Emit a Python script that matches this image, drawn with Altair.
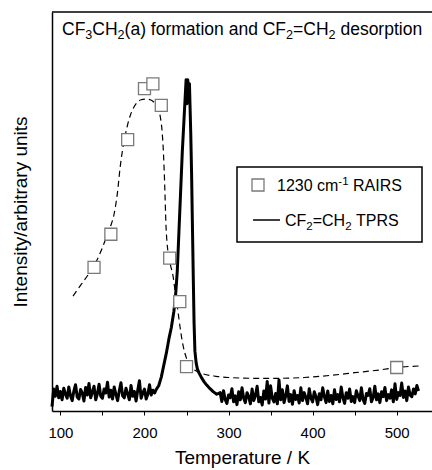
import altair as alt
import pandas as pd

FONT = "Liberation Sans"

# ---- RAIRS (1230 cm-1) squares ----
rairs_T = [140, 160, 180, 200, 210, 220, 230, 242, 250, 500]
rairs_I = [36.0, 44.3, 68.0, 80.8, 82.0, 76.6, 38.3, 27.4, 11.1, 10.9]

# ---- dashed guide curve through RAIRS data ----
curve_T = [115, 125, 135, 145, 153, 160, 164, 168, 171, 174, 177, 180, 183, 187, 191, 196,
           202, 207, 212, 216, 219, 221, 222.5, 224, 225.5, 228, 231, 234, 237, 240, 243, 246,
           250, 254, 260, 270, 285, 300, 330, 360, 390, 420, 450, 480, 500, 528]
curve_I = [28.8, 31.8, 34.8, 38.5, 42.6, 46.5, 49.5, 55.0, 61.0, 65.5, 69.0, 71.8, 74.0, 76.0,
           77.3, 78.0, 78.2, 78.0, 77.2, 75.8, 73.5, 70.0, 65.0, 57.0, 47.0, 39.7, 36.5, 33.8,
           29.0, 24.7, 20.0, 16.3, 13.2, 11.3, 10.2, 9.3, 8.7, 8.4, 8.2, 8.2, 8.4, 8.9, 9.6,
           10.3, 10.9, 11.3]

# ---- TPRS trace (CF2=CH2) ----
# baseline before the peak, sampled every 2 K from 90 K
tprs_left = [1.1, 5.5, 3.7, 6.2, 3.3, 4.9, 2.8, 5.7, 4.2, 3.2, 6.0, 3.8, 2.6, 5.0, 6.6, 3.5,
             3.0, 5.4, 4.5, 2.5, 5.9, 4.0, 6.9, 3.3, 4.7, 6.2, 2.8, 4.3, 6.7, 3.7, 3.2, 5.5,
             4.5, 7.2, 3.5, 5.2, 3.0, 6.0, 4.2, 2.6, 5.0, 7.1, 3.8, 3.3, 5.7, 4.3, 2.8, 6.4,
             3.7, 4.9, 2.5, 5.2, 7.6, 3.2, 4.5, 5.5, 3.0, 4.2, 6.6, 4.0, 5.2, 4.5]
# desorption peak
peak_T = [214, 217, 220, 223, 226, 229, 232, 235, 237, 239, 241, 243, 245, 247, 248.5, 249.5,
          250.5, 251.5, 252.5, 253.5, 255, 256, 257, 258, 259, 260, 261.5, 263, 265, 268, 271,
          274, 278, 282, 286]
peak_I = [5.4, 6.4, 8.5, 11.5, 14.5, 18.0, 21.0, 25.0, 29.0, 35.0, 45.0, 55.0, 65.0, 73.0,
          79.0, 83.0, 77.0, 83.0, 78.0, 82.0, 70.0, 60.0, 47.0, 34.0, 22.0, 15.0, 12.0, 10.5,
          9.5, 8.3, 7.3, 6.5, 5.6, 4.8, 4.2]
# baseline after the peak, sampled every 2 K from 290 K
tprs_right = [4.6, 2.4, 5.1, 2.9, 1.9, 4.0, 3.3, 5.6, 2.3, 3.8, 1.6, 4.8, 2.8, 5.8, 3.2, 2.1,
              4.6, 3.6, 1.8, 5.5, 2.6, 3.9, 6.2, 2.3, 3.4, 1.5, 5.0, 3.0, 7.4, 2.0, 6.3, 3.2,
              2.3, 4.4, 1.8, 7.8, 2.8, 5.3, 2.1, 3.8, 6.3, 2.4, 4.1, 1.7, 5.1, 2.9, 3.9, 2.0,
              5.8, 2.6, 4.6, 3.4, 1.8, 5.6, 3.2, 2.3, 4.8, 3.6, 1.6, 4.3, 2.8, 5.8, 3.6, 2.1,
              5.0, 2.4, 3.9, 1.8, 5.3, 2.9, 4.1, 2.3, 6.0, 3.4, 1.9, 4.6, 3.2, 5.5, 2.4, 3.6,
              2.1, 5.1, 3.8, 2.6, 5.8, 2.9, 1.9, 4.4, 3.9, 5.6, 2.3, 3.4, 6.2, 2.8, 4.3, 2.1,
              4.8, 3.6, 5.9, 2.6, 4.1, 3.2, 5.3, 2.3, 6.8, 2.9, 4.6, 3.9, 7.0, 3.4, 5.0, 2.6,
              6.0, 4.0, 3.6, 5.5, 4.3, 6.4, 5.0]

x_ticks = [100, 150, 200, 250, 300, 350, 400, 450, 500, 550]

# rich-text pieces: (text, kind) with kind n=normal, sub=subscript, sup=superscript
title_parts = [("CF", "n"), ("3", "sub"), ("CH", "n"), ("2", "sub"),
               ("(a) formation and CF", "n"), ("2", "sub"), ("=CH", "n"), ("2", "sub"),
               (" desorption", "n")]
legend1_parts = [("1230 cm", "n"), ("-1", "sup"), (" RAIRS", "n")]
legend2_parts = [("CF", "n"), ("2", "sub"), ("=CH", "n"), ("2", "sub"), (" TPRS", "n")]

tprs_T = (list(range(90, 90 + 2 * len(tprs_left), 2)) + peak_T +
          list(range(290, 290 + 2 * len(tprs_right), 2)))
tprs_I = tprs_left + peak_I + tprs_right

df_tprs = pd.DataFrame({"T": tprs_T, "I": tprs_I})
df_curve = pd.DataFrame({"T": curve_T, "I": curve_I})
df_rairs = pd.DataFrame({"T": rairs_T, "I": rairs_I})
one = pd.DataFrame({"a": [0]})

# Arial / Liberation Sans advance widths (per 1000 em)
AW = {" ": 278, "(": 333, ")": 333, "-": 333, "=": 584, "/": 278,
      "0": 556, "1": 556, "2": 556, "3": 556,
      "A": 667, "C": 722, "F": 611, "H": 722, "I": 278, "P": 667, "R": 722, "S": 667,
      "T": 611, "a": 556, "c": 500, "d": 556, "e": 556, "f": 278, "i": 222, "m": 833,
      "n": 556, "o": 556, "p": 556, "r": 333, "s": 500, "t": 278}


def rich_text(parts, x0, y0, size):
    layers = []
    x = x0
    for txt, kind in parts:
        fs = size if kind == "n" else round(size * 0.72, 1)
        dy = 0 if kind == "n" else (size * 0.28 if kind == "sub" else -size * 0.36)
        lead = len(txt) - len(txt.lstrip(" "))
        xd = x + lead * AW[" "] * fs / 1000
        layers.append(
            alt.Chart(one).mark_text(text=txt.strip(" "), align="left", baseline="alphabetic",
                                     fontSize=fs, font=FONT, color="black", dy=dy)
            .encode(x=alt.value(xd), y=alt.value(y0)))
        x += sum(AW.get(c, 556) for c in txt) * fs / 1000
    return layers


W, H = 380, 399
xs = alt.Scale(domain=[90, 542], nice=False, zero=False)
ys = alt.Scale(domain=[0, 100], nice=False, zero=False)

x_axis = alt.Axis(values=x_ticks, labelExpr="datum.value % 100 === 0 ? datum.label : ''",
                  tickSize=4, tickColor="black", tickWidth=1, labelFontSize=15,
                  labelPadding=10, grid=False, title="Temperature / K", titleFontSize=19,
                  titleFontWeight="normal", titlePadding=8, domainColor="black",
                  domainWidth=1.5, labelColor="black", titleColor="black", labelFont=FONT,
                  titleFont=FONT)
y_axis = alt.Axis(labels=False, ticks=False, grid=False, title="Intensity/arbitrary units",
                  titleFontSize=19, titleFontWeight="normal", titlePadding=22,
                  domainColor="black", domainWidth=1.5, titleColor="black", titleFont=FONT)

tprs = alt.Chart(df_tprs).mark_line(color="black", strokeWidth=3, strokeJoin="round").encode(
    x=alt.X("T:Q", scale=xs, axis=x_axis),
    y=alt.Y("I:Q", scale=ys, axis=y_axis),
)

curve = alt.Chart(df_curve).mark_line(color="black", strokeWidth=1.2, strokeDash=[6, 4],
                                      interpolate="monotone").encode(
    x=alt.X("T:Q", scale=xs), y=alt.Y("I:Q", scale=ys))

rairs = alt.Chart(df_rairs).mark_point(shape="square", size=144, filled=True, fill="white",
                                       stroke="#7a7a7a", strokeWidth=1.3, opacity=1).encode(
    x=alt.X("T:Q", scale=xs), y=alt.Y("I:Q", scale=ys))

top_border = alt.Chart(one).mark_rule(color="black", strokeWidth=1.5).encode(
    x=alt.value(0), x2=alt.value(W + 2), y=alt.value(0))

title_layers = rich_text(title_parts, 10, 22.5, 17.5)

leg_box = alt.Chart(one).mark_rect(fill="white", stroke="black", strokeWidth=1.5).encode(
    x=alt.value(185), x2=alt.value(370), y=alt.value(155), y2=alt.value(230))
leg_sq = alt.Chart(one).mark_point(shape="square", size=144, filled=True, fill="white",
                                   stroke="#7a7a7a", strokeWidth=1.3, opacity=1).encode(
    x=alt.value(206), y=alt.value(173))
leg_line = alt.Chart(one).mark_rule(color="black", strokeWidth=1.5).encode(
    x=alt.value(201), x2=alt.value(228), y=alt.value(208))
leg1_layers = rich_text(legend1_parts, 225, 178.5, 16)
leg2_layers = rich_text(legend2_parts, 233, 213.5, 16)

chart = alt.layer(tprs, curve, rairs, top_border, *title_layers, leg_box, leg_sq,
                  leg_line, *leg1_layers, *leg2_layers).properties(
    width=W, height=H,
    autosize=alt.AutoSizeParams(type="none"),
    padding={"left": 52, "top": 12, "right": 0, "bottom": 59},
    background="white",
).configure_view(stroke=None)

chart.save("out.html", embed_options={"renderer": "svg", "actions": False})
